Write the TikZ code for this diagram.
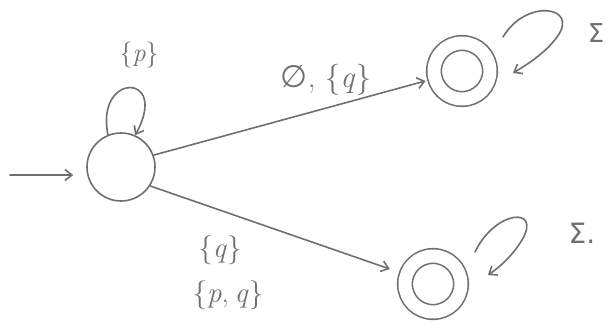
\documentclass[tikz,border=0pt]{standalone}
\usepackage{fontspec}
\newfontfamily\symfont{DejaVu Sans}
\usetikzlibrary{arrows.meta}
\definecolor{pencil}{HTML}{6F6F6F}
\begin{document}
\begin{tikzpicture}[x=1pt,y=-1pt,
  every path/.style={draw=pencil,line width=1.6pt,line cap=round,line join=round},
  edge/.style={-{Straight Barb[length=7pt,width=11pt,line width=1.6pt]}},
  state/.style={circle,draw=pencil,line width=1.6pt,inner sep=0pt,minimum size=68pt},
  accstate/.style={circle,draw=pencil,line width=1.6pt,double,double distance=13pt,inner sep=0pt,minimum size=56pt},
  lbl/.style={text=pencil,inner sep=0pt,font=\fontsize{26}{30}\selectfont}]
\useasboundingbox[fill=white,draw=none] (0,0) rectangle (611,333);

\node[state] (s0) at (121,167) {};
\node[accstate] (f1) at (462,71) {};
\node[accstate] (f2) at (433,284) {};

\coordinate (i) at (10,175);
\draw[edge,shorten >=13pt] (i) -- (i -| s0.west);

\draw[edge] (s0.112) .. controls (95,72) and (170,72) .. (s0.66);
\node[lbl] (lp) at (139,55) {\{\textit{p}\}};

\draw[edge,shorten >=9pt] (s0.20) -- (f1);
\node[lbl,font=\fontsize{31}{35}\selectfont] (l1) at (326,80) {{\symfont ∅},\hspace{0.3em}\{\textit{q}\}};

\draw[edge,shorten >=17pt] (s0.-33) -- (f2);
\node[lbl,font=\fontsize{29}{33}\selectfont] (l2) at (220,250) {\{\textit{q}\}};
\node[lbl,font=\fontsize{29}{33}\selectfont] (l3) at (228,295) {\{\textit{p},\hspace{0.2em}\textit{q}\}};

\draw[edge] ([shift={(41,-34)}]f1.center) .. controls (526,-2) and (580,6) .. (557,37)
  .. controls (547,51) and (530,63) .. ([shift={(51,2)}]f1.center);
\node[lbl,font=\fontsize{26}{30}\selectfont\symfont] (s1) at (596,33) {Σ};

\draw[edge] ([shift={(42,-32)}]f2.center) .. controls (495,210) and (542,206) .. (522,240)
  .. controls (513,255) and (500,267) .. ([shift={(55,-9)}]f2.center);
\node[lbl,font=\fontsize{28}{32}\selectfont\symfont] (s2) at (582,233) {Σ.};
\end{tikzpicture}
\end{document}
